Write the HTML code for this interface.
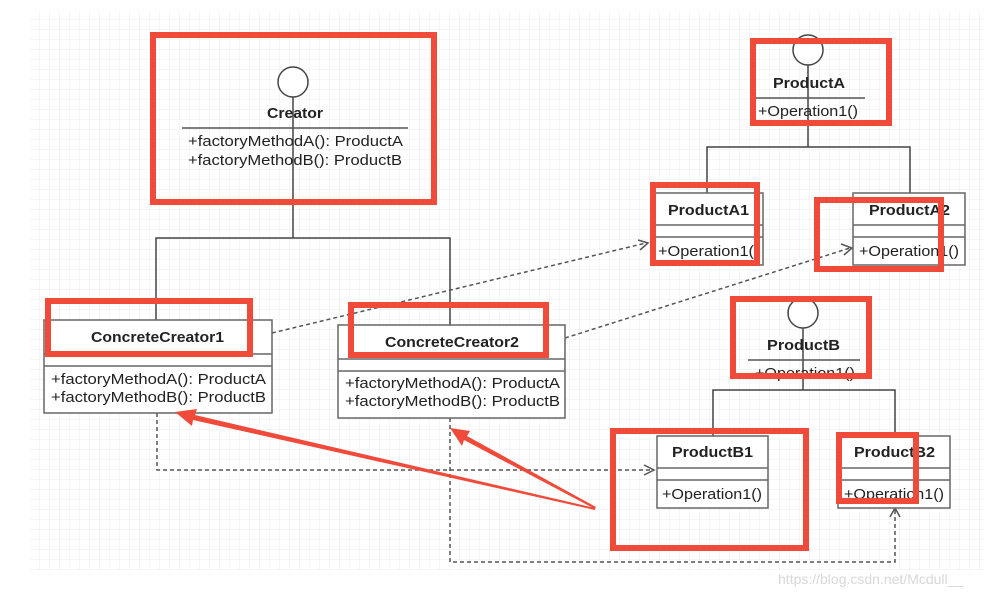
<!DOCTYPE html>
<html><head><meta charset="utf-8"><style>
body{margin:0;background:#fff;}
svg{display:block;font-family:"Liberation Sans",Arial,sans-serif;}
</style></head><body>
<svg width="997" height="592" viewBox="0 0 997 592" xmlns="http://www.w3.org/2000/svg">
<defs>
<pattern id="g" width="10" height="10" patternUnits="userSpaceOnUse">
<path d="M10 0V10H0" fill="none" stroke="#ececec" stroke-width="1"/>
</pattern>
</defs>
<rect x="0" y="0" width="997" height="592" fill="#fff"/>
<rect x="30" y="10" width="955" height="560" fill="url(#g)"/>

<g stroke="#444" stroke-width="1.5" fill="none">
<line x1="293" y1="97" x2="293" y2="238"/>
<polyline points="156,320 156,238 450,238 450,325"/>
<line x1="808" y1="65" x2="808" y2="147"/>
<polyline points="707,193 707,147 910,147 910,193"/>
<line x1="803" y1="328" x2="803" y2="390"/>
<polyline points="713,436 713,390 895,390 895,436"/>
</g>

<g stroke="#555" stroke-width="1.5" fill="none" stroke-dasharray="4,3">
<line x1="272" y1="333" x2="646" y2="243"/>
<line x1="565" y1="338" x2="850" y2="248"/>
<polyline points="157,413 157,470 653,470"/>
<polyline points="450,418 450,562 895,562 895,508"/>
</g>
<g stroke="#555" stroke-width="1.5" fill="none">
<polyline points="638,240 648,243 640,250"/>
<polyline points="841,244 852,248 844,255"/>
<polyline points="644,465 654,470 644,475"/>
<polyline points="890,517 895,508 900,517"/>
</g>

<g font-size="14.5" fill="#222" lengthAdjust="spacingAndGlyphs">
<circle cx="293" cy="82" r="15" fill="#fff" stroke="#444" stroke-width="1.5"/>
<text x="267" y="118" font-weight="bold" textLength="56" lengthAdjust="spacingAndGlyphs">Creator</text>
<line x1="182" y1="128" x2="408" y2="128" stroke="#555" stroke-width="1.5"/>
<text x="188" y="146" textLength="215" lengthAdjust="spacingAndGlyphs">+factoryMethodA(): ProductA</text>
<text x="188" y="165" textLength="214" lengthAdjust="spacingAndGlyphs">+factoryMethodB(): ProductB</text>

<rect x="44" y="320" width="228" height="93" fill="#fff" stroke="#666" stroke-width="1.5"/>
<line x1="44" y1="354" x2="272" y2="354" stroke="#666" stroke-width="1.5"/>
<line x1="44" y1="366" x2="272" y2="366" stroke="#666" stroke-width="1.5"/>
<text x="91" y="342" font-weight="bold" textLength="133" lengthAdjust="spacingAndGlyphs">ConcreteCreator1</text>
<text x="51" y="384" textLength="215" lengthAdjust="spacingAndGlyphs">+factoryMethodA(): ProductA</text>
<text x="51" y="402" textLength="215" lengthAdjust="spacingAndGlyphs">+factoryMethodB(): ProductB</text>

<rect x="338" y="325" width="227" height="93" fill="#fff" stroke="#666" stroke-width="1.5"/>
<line x1="338" y1="359" x2="565" y2="359" stroke="#666" stroke-width="1.5"/>
<line x1="338" y1="371" x2="565" y2="371" stroke="#666" stroke-width="1.5"/>
<text x="385" y="347" font-weight="bold" textLength="134" lengthAdjust="spacingAndGlyphs">ConcreteCreator2</text>
<text x="345" y="388" textLength="215" lengthAdjust="spacingAndGlyphs">+factoryMethodA(): ProductA</text>
<text x="345" y="406" textLength="215" lengthAdjust="spacingAndGlyphs">+factoryMethodB(): ProductB</text>

<circle cx="808" cy="50" r="15" fill="#fff" stroke="#444" stroke-width="1.5"/>
<text x="773" y="88" font-weight="bold" textLength="72" lengthAdjust="spacingAndGlyphs">ProductA</text>
<line x1="755" y1="98" x2="865" y2="98" stroke="#555" stroke-width="1.5"/>
<text x="758" y="116" textLength="100" lengthAdjust="spacingAndGlyphs">+Operation1()</text>

<rect x="655" y="193" width="108" height="72" fill="#fff" stroke="#666" stroke-width="1.5"/>
<line x1="655" y1="225" x2="763" y2="225" stroke="#666" stroke-width="1.5"/>
<line x1="655" y1="237" x2="763" y2="237" stroke="#666" stroke-width="1.5"/>
<text x="668" y="215" font-weight="bold" textLength="81" lengthAdjust="spacingAndGlyphs">ProductA1</text>
<text x="658" y="256" textLength="96" lengthAdjust="spacingAndGlyphs">+Operation1(</text>

<rect x="853" y="193" width="112" height="72" fill="#fff" stroke="#666" stroke-width="1.5"/>
<line x1="853" y1="225" x2="965" y2="225" stroke="#666" stroke-width="1.5"/>
<line x1="853" y1="237" x2="965" y2="237" stroke="#666" stroke-width="1.5"/>
<text x="869" y="215" font-weight="bold" textLength="81" lengthAdjust="spacingAndGlyphs">ProductA2</text>
<text x="859" y="256" textLength="100" lengthAdjust="spacingAndGlyphs">+Operation1()</text>

<circle cx="803" cy="313" r="15" fill="#fff" stroke="#444" stroke-width="1.5"/>
<text x="767" y="350" font-weight="bold" textLength="73" lengthAdjust="spacingAndGlyphs">ProductB</text>
<line x1="748" y1="360" x2="860" y2="360" stroke="#555" stroke-width="1.5"/>
<text x="755" y="378" textLength="100" lengthAdjust="spacingAndGlyphs">+Operation1()</text>

<rect x="657" y="436" width="111" height="72" fill="#fff" stroke="#666" stroke-width="1.5"/>
<line x1="657" y1="468" x2="768" y2="468" stroke="#666" stroke-width="1.5"/>
<line x1="657" y1="480" x2="768" y2="480" stroke="#666" stroke-width="1.5"/>
<text x="672" y="457" font-weight="bold" textLength="81" lengthAdjust="spacingAndGlyphs">ProductB1</text>
<text x="662" y="499" textLength="100" lengthAdjust="spacingAndGlyphs">+Operation1()</text>

<rect x="838" y="436" width="112" height="72" fill="#fff" stroke="#666" stroke-width="1.5"/>
<line x1="838" y1="468" x2="950" y2="468" stroke="#666" stroke-width="1.5"/>
<line x1="838" y1="480" x2="950" y2="480" stroke="#666" stroke-width="1.5"/>
<text x="854" y="457" font-weight="bold" textLength="81" lengthAdjust="spacingAndGlyphs">ProductB2</text>
<text x="844" y="499" textLength="100" lengthAdjust="spacingAndGlyphs">+Operation1()</text>
</g>

<g fill="none" stroke="#f04a3a" stroke-width="6">
<rect x="153" y="35" width="281" height="167"/>
<rect x="48" y="301" width="202" height="53"/>
<rect x="351" y="305" width="195" height="50"/>
<rect x="753" y="41" width="136" height="82"/>
<rect x="653" y="185" width="104" height="78"/>
<rect x="817" y="200" width="124" height="69"/>
<rect x="733" y="299" width="136" height="77"/>
<rect x="613" y="431" width="193" height="117"/>
<rect x="839" y="435" width="77" height="66"/>
</g>

<g fill="#f04a3a">
<polygon points="175,412 197,409 195,415 595,508 595,510 193,420 192,426"/>
<polygon points="450,428 470,431 467,436 596,507 595,509 464,440 462,446"/>
</g>

<text x="778" y="584" font-size="14" fill="#d8d8d8">https://blog.csdn.net/Mcdull__</text>
</svg>
</body></html>
